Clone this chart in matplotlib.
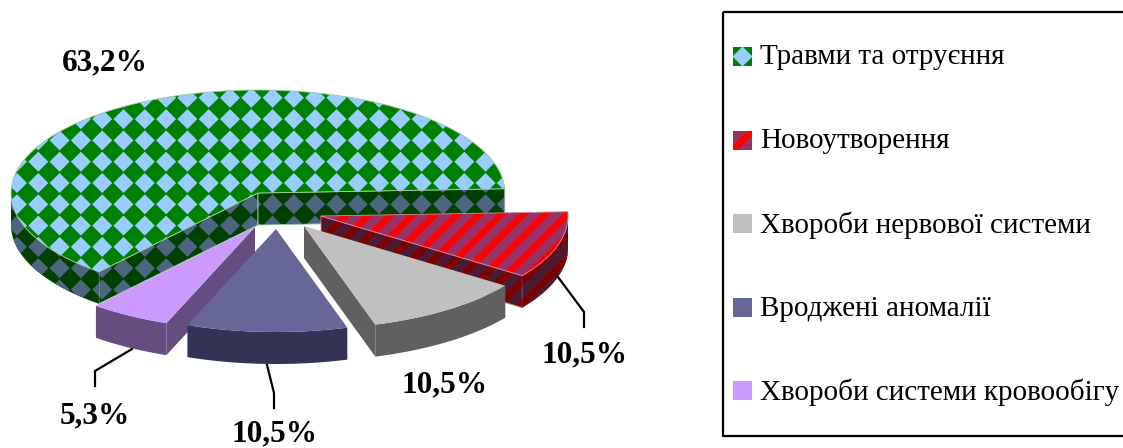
import matplotlib
matplotlib.use("Agg")
import matplotlib.pyplot as plt
import numpy as np
from matplotlib.collections import PolyCollection
from matplotlib.patches import Polygon, Rectangle

# data
categories = ["Травми та отруєння", "Новоутворення", "Хвороби нервової системи",
              "Вроджені аномалії", "Хвороби системи кровообігу"]
values = [63.2, 10.5, 10.5, 10.5, 5.3]
labels = ["63,2%", "10,5%", "10,5%", "10,5%", "5,3%"]

# layout, in pixels of the picture
W, H = 1123, 448
RX, RY, DEPTH = 247, 103, 32
START = 229.9
apex = [(258, 193), (321, 216), (304, 226), (276, 229), (255, 227)]
label_pos = [(105, 63), (585, 355), (445, 385), (274, 434), (95, 416)]
leaders = [None,
           [(558, 277), (584, 312), (584, 327)],
           None,
           [(267, 365), (274, 393), (274, 408)],
           [(132, 349), (95, 371), (95, 386)]]
legend_y = [56.5, 140.5, 224, 308, 391]
draw_order = [0, 1, 4, 2, 3]

top_col = ["#008000", "#993366", "#c0c0c0", "#666699", "#cc99ff"]
side_col = ["#004000", "#4d1a33", "#606060", "#333355", "#664d80"]
top_alt = ["#99ccff", "#ff0000", None, None, None]
side_alt = ["#4d6680", "#800000", None, None, None]
edge_col = ["#a8cfa8", "#d08aa8", None, None, None]


def diamonds(clip, color, ox=38.3, oy=161.7):
    p = 21.3
    h = 10.0
    x0, y0 = clip.get_xy().min(axis=0)
    x1, y1 = clip.get_xy().max(axis=0)
    polys = []
    for i in np.arange(np.floor((x0 - ox) / p) - 1, np.ceil((x1 - ox) / p) + 2):
        for j in np.arange(np.floor((y0 - oy) / p) - 1, np.ceil((y1 - oy) / p) + 2):
            cx, cy = ox + i * p, oy + j * p
            polys.append([(cx - h, cy), (cx, cy - h), (cx + h, cy), (cx, cy + h)])
    return polys


def stripes(clip, color, phase=781.7):
    p = 22.0
    w = 9.5
    x0, y0 = clip.get_xy().min(axis=0)
    x1, y1 = clip.get_xy().max(axis=0)
    polys = []
    for k in np.arange(np.floor((x0 + y0 - phase) / p) - 1, np.ceil((x1 + y1 - phase) / p) + 2):
        s = phase + k * p
        polys.append([(s - w / 2 - y0 + 5, y0 - 5), (s + w / 2 - y0 + 5, y0 - 5),
                      (s + w / 2 - y1 - 5, y1 + 5), (s - w / 2 - y1 - 5, y1 + 5)])
    return polys


def fill(ax, pts, base, alt=None, kind=0, edge=None, **kw):
    patch = Polygon(pts, closed=True, facecolor=base, edgecolor="none", zorder=2)
    ax.add_patch(patch)
    if alt is not None:
        polys = diamonds(patch, alt, **kw) if kind == 0 else stripes(patch, alt, **kw)
        coll = PolyCollection(polys, facecolors=alt, edgecolors="none", zorder=2)
        ax.add_collection(coll)
        coll.set_clip_path(patch)
    if edge is not None:
        ax.add_patch(Polygon(pts, closed=True, fill=False, edgecolor=edge, lw=0.6, zorder=2))


def arc(cx, cy, t):
    r = np.radians(t)
    return np.column_stack([cx + RX * np.cos(r), cy - RY * np.sin(r)])


fig = plt.figure(figsize=(W / 100, H / 100), dpi=100)
ax = fig.add_axes([0, 0, 1, 1])
ax.set_xlim(0, W)
ax.set_ylim(H, 0)
ax.axis("off")

ends = START - np.cumsum(values) / np.sum(values) * 360
starts = np.r_[START, ends[:-1]]

for i in draw_order:
    cx, cy = apex[i]
    a0, a1 = starts[i], ends[i]
    t = np.linspace(a0, a1, 200)
    # inner walls, only the ones turned towards the viewer
    for a, normal in ((a0, a0 + 90), (a1, a1 - 90)):
        if np.sin(np.radians(normal)) < 0:
            e = arc(cx, cy, np.array([a]))[0]
            wall = [(cx, cy), tuple(e), (e[0], e[1] + DEPTH), (cx, cy + DEPTH)]
            fill(ax, wall, side_col[i], side_alt[i], i, edge_col[i])
    # outer rim
    vis = t[np.sin(np.radians(t)) <= 0]
    if len(vis) > 1:
        upper = arc(cx, cy, vis)
        lower = upper + [0, DEPTH]
        fill(ax, np.vstack([upper, lower[::-1]]), side_col[i], side_alt[i], i)
    # top face
    fill(ax, np.vstack([[(cx, cy)], arc(cx, cy, t)]), top_col[i], top_alt[i], i, edge_col[i])

for i in range(len(values)):
    ax.text(label_pos[i][0], label_pos[i][1], labels[i], ha="center", va="center",
            family="Liberation Serif", weight="bold", fontsize=22.5, color="black", zorder=5)
    if leaders[i] is not None:
        xs, ys = zip(*leaders[i])
        ax.plot(xs, ys, color="black", lw=1.6, zorder=4, solid_joinstyle="miter")

# legend
ax.add_patch(Rectangle((723, 12), 420, 424, fill=False, edgecolor="black", lw=1.6, zorder=3))
for i, name in enumerate(categories):
    y = legend_y[i]
    box = [(733, y - 9.5), (752, y - 9.5), (752, y + 9.5), (733, y + 9.5)]
    if i == 0:
        fill(ax, box, top_col[i], top_alt[i], 0, ox=742.5, oy=y)
    elif i == 1:
        fill(ax, box, top_col[i], top_alt[i], 1, phase=742.5 + y)
    else:
        fill(ax, box, top_col[i])
    ax.text(760, y + 1, name, ha="left", va="center", family="Liberation Serif",
            fontsize=21.0, color="black", zorder=5)

fig.savefig("out.png", dpi=100)
